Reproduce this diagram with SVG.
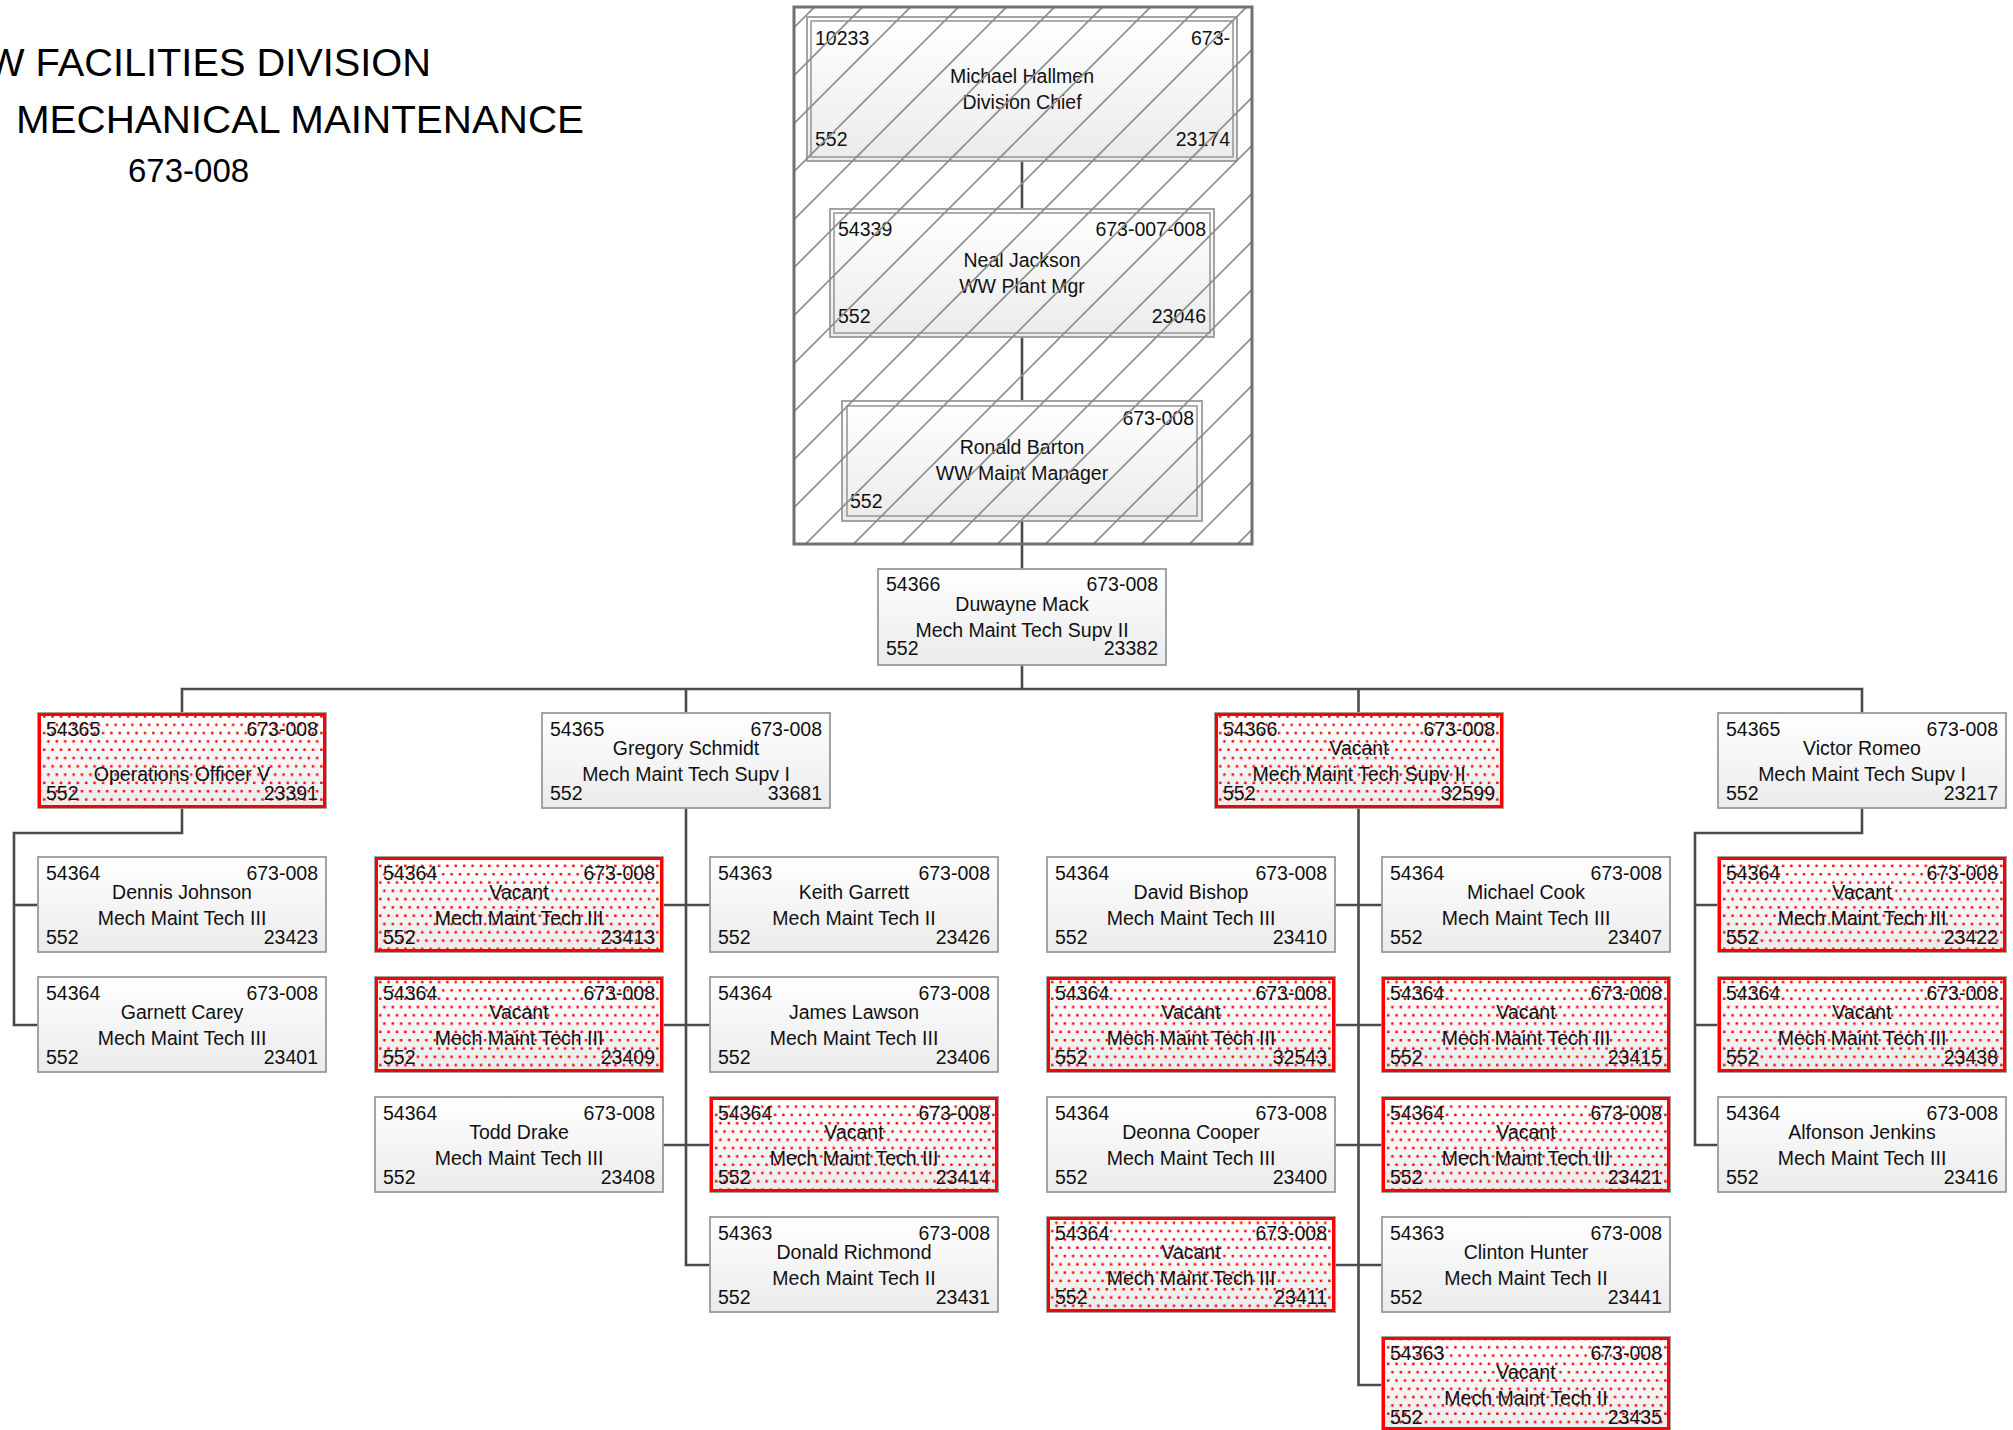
<svg xmlns="http://www.w3.org/2000/svg" width="2013" height="1430" viewBox="0 0 2013 1430">
<defs>
<linearGradient id="shade" x1="0" y1="0" x2="0" y2="1">
<stop offset="0" stop-color="#ffffff"/>
<stop offset="1" stop-color="#ebebeb"/>
</linearGradient>
<pattern id="hatch" patternUnits="userSpaceOnUse" x="0" y="0" width="48" height="48">
<path d="M-1,6.5 L6.5,-1 M4.5,49 L49,4.5" stroke="#8c8c8c" stroke-width="1.6" fill="none"/>
</pattern>
<pattern id="dots" patternUnits="userSpaceOnUse" x="0" y="0" width="8.4" height="16.6">
<rect x="1" y="1.5" width="2.4" height="2.4" fill="#ff0000"/>
<rect x="5.2" y="9.8" width="2.4" height="2.4" fill="#ff0000"/>
</pattern>
</defs>
<style>
text{font-family:"Liberation Sans",Arial,sans-serif;font-size:19.5px;fill:#111}
.l{text-anchor:start}
.r{text-anchor:end}
.c{text-anchor:middle}
.box{fill:url(#shade);stroke:#9a9a9a;stroke-width:1.8}
.dbl{fill:none;stroke:#9a9a9a;stroke-width:1.6}
.dot{fill:url(#dots);stroke:none}
.vac{fill:none;stroke:#ff0000;stroke-width:3}
.conn path{fill:none;stroke:#4a4a4a;stroke-width:2.6}
.title{font-size:39px;fill:#000}
</style>
<rect x="0" y="0" width="2013" height="1430" fill="#ffffff"/>

<g id="title">
<text class="title" x="-13" y="76" textLength="444" lengthAdjust="spacingAndGlyphs">W FACILITIES DIVISION</text>
<text class="title" x="16" y="133" textLength="568" lengthAdjust="spacingAndGlyphs">MECHANICAL MAINTENANCE</text>
<text class="title" x="128" y="182" style="font-size:33px">673-008</text>
</g>

<g id="connectors" class="conn">
<path d="M1022,161 V209"/>
<path d="M1022,337 V401"/>
<path d="M1022,521 V569"/>
<path d="M1022,665 V689"/>
<path d="M182,713 V689 H1862 V713"/>
<path d="M686,689 V713"/>
<path d="M1358.5,689 V713"/>
<path d="M182,808 V833 H14 V1025 H38"/>
<path d="M14,905 H38"/>
<path d="M686,808 V1265 H710"/>
<path d="M663,905 H710 M663,1025 H710 M663,1145 H710"/>
<path d="M1358.5,808 V1385 H1382"/>
<path d="M1335,905 H1382 M1335,1025 H1382 M1335,1145 H1382 M1335,1265 H1382"/>
<path d="M1862,808 V833 H1695 V1145 H1718"/>
<path d="M1695,905 H1718 M1695,1025 H1718"/>
</g>

<g id="container-top">
<g id="node-michael-hallmen">
<rect class="box" x="807" y="17" width="430" height="144"/>
<rect class="dbl" x="811" y="21" width="422" height="136"/>
<text class="l" x="815" y="45">10233</text>
<text class="r" x="1230" y="45">673-</text>
<text class="c" x="1022" y="83">Michael Hallmen</text>
<text class="c" x="1022" y="109">Division Chief</text>
<text class="l" x="815" y="146">552</text>
<text class="r" x="1230" y="146">23174</text>
</g>
<g id="node-neal-jackson">
<rect class="box" x="830" y="209" width="384" height="128"/>
<rect class="dbl" x="834" y="213" width="376" height="120"/>
<text class="l" x="838" y="236">54339</text>
<text class="r" x="1206" y="236">673-007-008</text>
<text class="c" x="1022" y="267">Neal Jackson</text>
<text class="c" x="1022" y="293">WW Plant Mgr</text>
<text class="l" x="838" y="323">552</text>
<text class="r" x="1206" y="323">23046</text>
</g>
<g id="node-ronald-barton">
<rect class="box" x="842" y="401" width="360" height="120"/>
<rect class="dbl" x="847" y="406" width="350" height="110"/>
<text class="r" x="1194" y="425">673-008</text>
<text class="c" x="1022" y="454">Ronald Barton</text>
<text class="c" x="1022" y="480">WW Maint Manager</text>
<text class="l" x="850" y="508">552</text>
</g>
<rect x="794" y="7" width="458" height="537" fill="url(#hatch)"/>
<rect x="794" y="7" width="458" height="537" fill="none" stroke="#707070" stroke-width="3"/>
</g>

<g id="node-duwayne-mack">
<rect class="box" x="878" y="569" width="288" height="96"/>
<text class="l" x="886" y="591">54366</text>
<text class="r" x="1158" y="591">673-008</text>
<text class="c" x="1022" y="611">Duwayne Mack</text>
<text class="c" x="1022" y="637">Mech Maint Tech Supv II</text>
<text class="l" x="886" y="655">552</text>
<text class="r" x="1158" y="655">23382</text>
</g>

<g id="node-ops-officer">
<rect class="box" x="38" y="713" width="288" height="95"/>
<rect class="dot" x="38" y="713" width="288" height="95"/>
<text class="l" x="46" y="735.5">54365</text>
<text class="r" x="318" y="735.5">673-008</text>
<text class="c" x="182" y="781">Operations Officer V</text>
<text class="l" x="46" y="800">552</text>
<text class="r" x="318" y="800">23391</text>
<rect class="vac" x="39.5" y="714.5" width="285" height="92"/>
</g>

<g id="node-gregory-schmidt">
<rect class="box" x="542" y="713" width="288" height="95"/>
<text class="l" x="550" y="735.5">54365</text>
<text class="r" x="822" y="735.5">673-008</text>
<text class="c" x="686" y="755">Gregory Schmidt</text>
<text class="c" x="686" y="781">Mech Maint Tech Supv I</text>
<text class="l" x="550" y="800">552</text>
<text class="r" x="822" y="800">33681</text>
</g>

<g id="node-vacant-32599">
<rect class="box" x="1215" y="713" width="288" height="95"/>
<rect class="dot" x="1215" y="713" width="288" height="95"/>
<text class="l" x="1223" y="735.5">54366</text>
<text class="r" x="1495" y="735.5">673-008</text>
<text class="c" x="1359" y="755">Vacant</text>
<text class="c" x="1359" y="781">Mech Maint Tech Supv II</text>
<text class="l" x="1223" y="800">552</text>
<text class="r" x="1495" y="800">32599</text>
<rect class="vac" x="1216.5" y="714.5" width="285" height="92"/>
</g>

<g id="node-victor-romeo">
<rect class="box" x="1718" y="713" width="288" height="95"/>
<text class="l" x="1726" y="735.5">54365</text>
<text class="r" x="1998" y="735.5">673-008</text>
<text class="c" x="1862" y="755">Victor Romeo</text>
<text class="c" x="1862" y="781">Mech Maint Tech Supv I</text>
<text class="l" x="1726" y="800">552</text>
<text class="r" x="1998" y="800">23217</text>
</g>

<!-- Column A -->
<g id="node-dennis-johnson">
<rect class="box" x="38" y="857" width="288" height="95"/>
<text class="l" x="46" y="879.5">54364</text>
<text class="r" x="318" y="879.5">673-008</text>
<text class="c" x="182" y="899">Dennis Johnson</text>
<text class="c" x="182" y="925">Mech Maint Tech III</text>
<text class="l" x="46" y="944">552</text>
<text class="r" x="318" y="944">23423</text>
</g>
<g id="node-garnett-carey">
<rect class="box" x="38" y="977" width="288" height="95"/>
<text class="l" x="46" y="999.5">54364</text>
<text class="r" x="318" y="999.5">673-008</text>
<text class="c" x="182" y="1019">Garnett Carey</text>
<text class="c" x="182" y="1045">Mech Maint Tech III</text>
<text class="l" x="46" y="1064">552</text>
<text class="r" x="318" y="1064">23401</text>
</g>

<!-- Column B -->
<g id="node-vacant-23413">
<rect class="box" x="375" y="857" width="288" height="95"/>
<rect class="dot" x="375" y="857" width="288" height="95"/>
<text class="l" x="383" y="879.5">54364</text>
<text class="r" x="655" y="879.5">673-008</text>
<text class="c" x="519" y="899">Vacant</text>
<text class="c" x="519" y="925">Mech Maint Tech III</text>
<text class="l" x="383" y="944">552</text>
<text class="r" x="655" y="944">23413</text>
<rect class="vac" x="376.5" y="858.5" width="285" height="92"/>
</g>
<g id="node-vacant-23409">
<rect class="box" x="375" y="977" width="288" height="95"/>
<rect class="dot" x="375" y="977" width="288" height="95"/>
<text class="l" x="383" y="999.5">54364</text>
<text class="r" x="655" y="999.5">673-008</text>
<text class="c" x="519" y="1019">Vacant</text>
<text class="c" x="519" y="1045">Mech Maint Tech III</text>
<text class="l" x="383" y="1064">552</text>
<text class="r" x="655" y="1064">23409</text>
<rect class="vac" x="376.5" y="978.5" width="285" height="92"/>
</g>
<g id="node-todd-drake">
<rect class="box" x="375" y="1097" width="288" height="95"/>
<text class="l" x="383" y="1119.5">54364</text>
<text class="r" x="655" y="1119.5">673-008</text>
<text class="c" x="519" y="1139">Todd Drake</text>
<text class="c" x="519" y="1165">Mech Maint Tech III</text>
<text class="l" x="383" y="1184">552</text>
<text class="r" x="655" y="1184">23408</text>
</g>

<!-- Column C -->
<g id="node-keith-garrett">
<rect class="box" x="710" y="857" width="288" height="95"/>
<text class="l" x="718" y="879.5">54363</text>
<text class="r" x="990" y="879.5">673-008</text>
<text class="c" x="854" y="899">Keith Garrett</text>
<text class="c" x="854" y="925">Mech Maint Tech II</text>
<text class="l" x="718" y="944">552</text>
<text class="r" x="990" y="944">23426</text>
</g>
<g id="node-james-lawson">
<rect class="box" x="710" y="977" width="288" height="95"/>
<text class="l" x="718" y="999.5">54364</text>
<text class="r" x="990" y="999.5">673-008</text>
<text class="c" x="854" y="1019">James Lawson</text>
<text class="c" x="854" y="1045">Mech Maint Tech III</text>
<text class="l" x="718" y="1064">552</text>
<text class="r" x="990" y="1064">23406</text>
</g>
<g id="node-vacant-23414">
<rect class="box" x="710" y="1097" width="288" height="95"/>
<rect class="dot" x="710" y="1097" width="288" height="95"/>
<text class="l" x="718" y="1119.5">54364</text>
<text class="r" x="990" y="1119.5">673-008</text>
<text class="c" x="854" y="1139">Vacant</text>
<text class="c" x="854" y="1165">Mech Maint Tech III</text>
<text class="l" x="718" y="1184">552</text>
<text class="r" x="990" y="1184">23414</text>
<rect class="vac" x="711.5" y="1098.5" width="285" height="92"/>
</g>
<g id="node-donald-richmond">
<rect class="box" x="710" y="1217" width="288" height="95"/>
<text class="l" x="718" y="1239.5">54363</text>
<text class="r" x="990" y="1239.5">673-008</text>
<text class="c" x="854" y="1259">Donald Richmond</text>
<text class="c" x="854" y="1285">Mech Maint Tech II</text>
<text class="l" x="718" y="1304">552</text>
<text class="r" x="990" y="1304">23431</text>
</g>

<!-- Column D -->
<g id="node-david-bishop">
<rect class="box" x="1047" y="857" width="288" height="95"/>
<text class="l" x="1055" y="879.5">54364</text>
<text class="r" x="1327" y="879.5">673-008</text>
<text class="c" x="1191" y="899">David Bishop</text>
<text class="c" x="1191" y="925">Mech Maint Tech III</text>
<text class="l" x="1055" y="944">552</text>
<text class="r" x="1327" y="944">23410</text>
</g>
<g id="node-vacant-32543">
<rect class="box" x="1047" y="977" width="288" height="95"/>
<rect class="dot" x="1047" y="977" width="288" height="95"/>
<text class="l" x="1055" y="999.5">54364</text>
<text class="r" x="1327" y="999.5">673-008</text>
<text class="c" x="1191" y="1019">Vacant</text>
<text class="c" x="1191" y="1045">Mech Maint Tech III</text>
<text class="l" x="1055" y="1064">552</text>
<text class="r" x="1327" y="1064">32543</text>
<rect class="vac" x="1048.5" y="978.5" width="285" height="92"/>
</g>
<g id="node-deonna-cooper">
<rect class="box" x="1047" y="1097" width="288" height="95"/>
<text class="l" x="1055" y="1119.5">54364</text>
<text class="r" x="1327" y="1119.5">673-008</text>
<text class="c" x="1191" y="1139">Deonna Cooper</text>
<text class="c" x="1191" y="1165">Mech Maint Tech III</text>
<text class="l" x="1055" y="1184">552</text>
<text class="r" x="1327" y="1184">23400</text>
</g>
<g id="node-vacant-23411">
<rect class="box" x="1047" y="1217" width="288" height="95"/>
<rect class="dot" x="1047" y="1217" width="288" height="95"/>
<text class="l" x="1055" y="1239.5">54364</text>
<text class="r" x="1327" y="1239.5">673-008</text>
<text class="c" x="1191" y="1259">Vacant</text>
<text class="c" x="1191" y="1285">Mech Maint Tech III</text>
<text class="l" x="1055" y="1304">552</text>
<text class="r" x="1327" y="1304">23411</text>
<rect class="vac" x="1048.5" y="1218.5" width="285" height="92"/>
</g>

<!-- Column E -->
<g id="node-michael-cook">
<rect class="box" x="1382" y="857" width="288" height="95"/>
<text class="l" x="1390" y="879.5">54364</text>
<text class="r" x="1662" y="879.5">673-008</text>
<text class="c" x="1526" y="899">Michael Cook</text>
<text class="c" x="1526" y="925">Mech Maint Tech III</text>
<text class="l" x="1390" y="944">552</text>
<text class="r" x="1662" y="944">23407</text>
</g>
<g id="node-vacant-23415">
<rect class="box" x="1382" y="977" width="288" height="95"/>
<rect class="dot" x="1382" y="977" width="288" height="95"/>
<text class="l" x="1390" y="999.5">54364</text>
<text class="r" x="1662" y="999.5">673-008</text>
<text class="c" x="1526" y="1019">Vacant</text>
<text class="c" x="1526" y="1045">Mech Maint Tech III</text>
<text class="l" x="1390" y="1064">552</text>
<text class="r" x="1662" y="1064">23415</text>
<rect class="vac" x="1383.5" y="978.5" width="285" height="92"/>
</g>
<g id="node-vacant-23421">
<rect class="box" x="1382" y="1097" width="288" height="95"/>
<rect class="dot" x="1382" y="1097" width="288" height="95"/>
<text class="l" x="1390" y="1119.5">54364</text>
<text class="r" x="1662" y="1119.5">673-008</text>
<text class="c" x="1526" y="1139">Vacant</text>
<text class="c" x="1526" y="1165">Mech Maint Tech III</text>
<text class="l" x="1390" y="1184">552</text>
<text class="r" x="1662" y="1184">23421</text>
<rect class="vac" x="1383.5" y="1098.5" width="285" height="92"/>
</g>
<g id="node-clinton-hunter">
<rect class="box" x="1382" y="1217" width="288" height="95"/>
<text class="l" x="1390" y="1239.5">54363</text>
<text class="r" x="1662" y="1239.5">673-008</text>
<text class="c" x="1526" y="1259">Clinton Hunter</text>
<text class="c" x="1526" y="1285">Mech Maint Tech II</text>
<text class="l" x="1390" y="1304">552</text>
<text class="r" x="1662" y="1304">23441</text>
</g>
<g id="node-vacant-23435">
<rect class="box" x="1382" y="1337" width="288" height="95"/>
<rect class="dot" x="1382" y="1337" width="288" height="95"/>
<text class="l" x="1390" y="1359.5">54363</text>
<text class="r" x="1662" y="1359.5">673-008</text>
<text class="c" x="1526" y="1379">Vacant</text>
<text class="c" x="1526" y="1405">Mech Maint Tech II</text>
<text class="l" x="1390" y="1424">552</text>
<text class="r" x="1662" y="1424">23435</text>
<rect class="vac" x="1383.5" y="1338.5" width="285" height="90"/>
</g>

<!-- Column F -->
<g id="node-vacant-23422">
<rect class="box" x="1718" y="857" width="288" height="95"/>
<rect class="dot" x="1718" y="857" width="288" height="95"/>
<text class="l" x="1726" y="879.5">54364</text>
<text class="r" x="1998" y="879.5">673-008</text>
<text class="c" x="1862" y="899">Vacant</text>
<text class="c" x="1862" y="925">Mech Maint Tech III</text>
<text class="l" x="1726" y="944">552</text>
<text class="r" x="1998" y="944">23422</text>
<rect class="vac" x="1719.5" y="858.5" width="285" height="92"/>
</g>
<g id="node-vacant-23438">
<rect class="box" x="1718" y="977" width="288" height="95"/>
<rect class="dot" x="1718" y="977" width="288" height="95"/>
<text class="l" x="1726" y="999.5">54364</text>
<text class="r" x="1998" y="999.5">673-008</text>
<text class="c" x="1862" y="1019">Vacant</text>
<text class="c" x="1862" y="1045">Mech Maint Tech III</text>
<text class="l" x="1726" y="1064">552</text>
<text class="r" x="1998" y="1064">23438</text>
<rect class="vac" x="1719.5" y="978.5" width="285" height="92"/>
</g>
<g id="node-alfonson-jenkins">
<rect class="box" x="1718" y="1097" width="288" height="95"/>
<text class="l" x="1726" y="1119.5">54364</text>
<text class="r" x="1998" y="1119.5">673-008</text>
<text class="c" x="1862" y="1139">Alfonson Jenkins</text>
<text class="c" x="1862" y="1165">Mech Maint Tech III</text>
<text class="l" x="1726" y="1184">552</text>
<text class="r" x="1998" y="1184">23416</text>
</g>
</svg>
